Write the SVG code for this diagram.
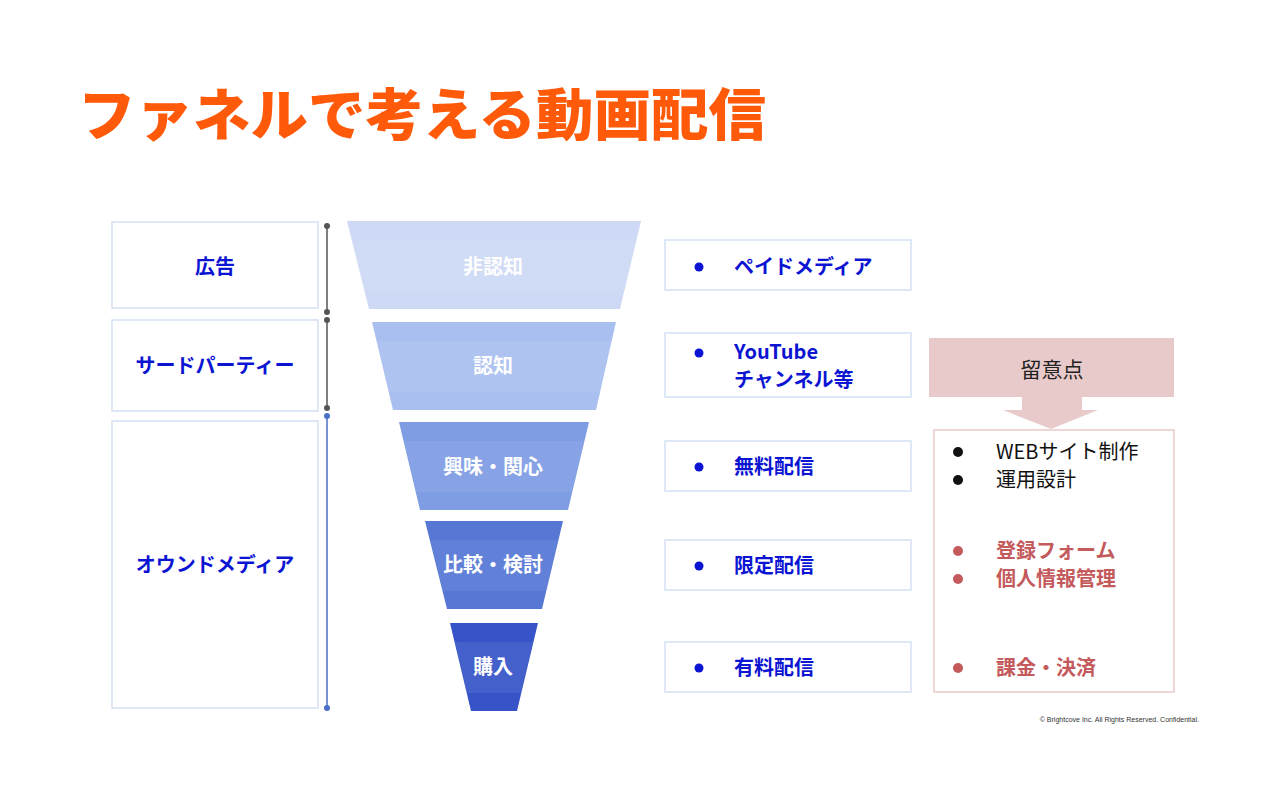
<svg xmlns="http://www.w3.org/2000/svg" width="1280" height="800" viewBox="0 0 1280 800">
<style>
.jp{font-family:"Noto Sans CJK JP","Liberation Sans",sans-serif;}
.title{font-size:56px;font-weight:900;fill:#FF5A0A;}
.lbox{fill:#fff;stroke:#D5E1F4;stroke-width:1.5;}
.ltxt{font-size:20px;font-weight:700;fill:#0B14D2;text-anchor:middle;}
.ftxt{font-size:20px;font-weight:700;fill:#fff;text-anchor:middle;}
.rtxt{font-size:20px;font-weight:700;fill:#0B14D2;}
.btxt{font-size:20px;fill:#111;}
.ptxt{font-size:20px;font-weight:700;fill:#C45A5C;}
.band{fill:#fff;opacity:0.07;}
</style>
<rect width="1280" height="800" fill="#fff"/>
<text class="jp title" x="78" y="135" textLength="688" lengthAdjust="spacingAndGlyphs">ファネルで考える動画配信</text>

<g id="left-ad"><rect class="lbox" x="112" y="222" width="206" height="86"/><text class="jp ltxt" x="215" y="274">広告</text></g>
<g id="left-third"><rect class="lbox" x="112" y="320" width="206" height="91"/><text class="jp ltxt" x="215" y="373">サードパーティー</text></g>
<g id="left-owned"><rect class="lbox" x="112" y="421" width="206" height="287"/><text class="jp ltxt" x="215" y="572">オウンドメディア</text></g>

<g id="connectors">
<line x1="327" y1="226" x2="327" y2="312" stroke="#555" stroke-width="1.5"/>
<circle cx="327" cy="226" r="3" fill="#555"/><circle cx="327" cy="312" r="3" fill="#555"/>
<line x1="327" y1="320" x2="327" y2="408" stroke="#555" stroke-width="1.5"/>
<circle cx="327" cy="320" r="3" fill="#555"/><circle cx="327" cy="408" r="3" fill="#555"/>
<line x1="327" y1="416" x2="327" y2="708" stroke="#4A6FC8" stroke-width="1.5"/>
<circle cx="327" cy="416" r="3" fill="#4A6FC8"/><circle cx="327" cy="708" r="3" fill="#4A6FC8"/>
</g>

<g id="f1"><polygon points="347,221 641,221 620,309 369,309" fill="#CDD9F5"/><polygon class="band" points="352,241 636,241 625,290 364,290"/><text class="jp ftxt" x="493" y="274">非認知</text></g>
<g id="f2"><polygon points="372,322 616,322 596,410 393,410" fill="#A9BFEF"/><polygon class="band" points="376,341 612,341 601,392 389,392"/><text class="jp ftxt" x="493" y="373">認知</text></g>
<g id="f3"><polygon points="399,422 589,422 568,510 420,510" fill="#7E9DE3"/><polygon class="band" points="404,441 584,441 572,492 416,492"/><text class="jp ftxt" x="493" y="474" textLength="100" lengthAdjust="spacingAndGlyphs">興味・関心</text></g>
<g id="f4"><polygon points="425,521 563,521 542,609 447,609" fill="#5677D4"/><polygon class="band" points="430,540 558,540 546,591 443,591"/><text class="jp ftxt" x="493" y="572" textLength="100" lengthAdjust="spacingAndGlyphs">比較・検討</text></g>
<g id="f5"><polygon points="450,623 538,623 517,711 471,711" fill="#3654C8"/><polygon class="band" points="455,642 533,642 521,693 467,693"/><text class="jp ftxt" x="493" y="674">購入</text></g>

<g id="r1"><rect class="lbox" x="665" y="240" width="246" height="50"/><circle cx="699" cy="267" r="4.5" fill="#0B14D2"/><text class="jp rtxt" x="734" y="274">ペイドメディア</text></g>
<g id="r2"><rect class="lbox" x="665" y="333" width="246" height="64"/><circle cx="699" cy="353" r="4.5" fill="#0B14D2"/><text class="jp rtxt" x="734" y="359">YouTube</text><text class="jp rtxt" x="734" y="387">チャンネル等</text></g>
<g id="r3"><rect class="lbox" x="665" y="441" width="246" height="50"/><circle cx="699" cy="467" r="4.5" fill="#0B14D2"/><text class="jp rtxt" x="734" y="474">無料配信</text></g>
<g id="r4"><rect class="lbox" x="665" y="540" width="246" height="50"/><circle cx="699" cy="566" r="4.5" fill="#0B14D2"/><text class="jp rtxt" x="734" y="573">限定配信</text></g>
<g id="r5"><rect class="lbox" x="665" y="642" width="246" height="50"/><circle cx="699" cy="668" r="4.5" fill="#0B14D2"/><text class="jp rtxt" x="734" y="675">有料配信</text></g>

<g id="notes-arrow">
<polygon points="929,338 1174,338 1174,397 1082,397 1082,410 1098,410 1051,429 1003,410 1022,410 1022,397 929,397" fill="#E9CACA"/>
<text class="jp" x="1052" y="377" font-size="21" fill="#222" text-anchor="middle">留意点</text>
</g>
<g id="notes">
<rect x="934" y="430" width="240" height="262" fill="#fff" stroke="#E9CACA" stroke-width="1.5"/>
<circle cx="958" cy="452" r="5" fill="#111"/><text class="jp btxt" x="996" y="459">WEBサイト制作</text>
<circle cx="958" cy="480" r="5" fill="#111"/><text class="jp btxt" x="996" y="487">運用設計</text>
<circle cx="958" cy="551" r="5" fill="#C45A5C"/><text class="jp ptxt" x="996" y="558">登録フォーム</text>
<circle cx="958" cy="579" r="5" fill="#C45A5C"/><text class="jp ptxt" x="996" y="586">個人情報管理</text>
<circle cx="958" cy="668" r="5" fill="#C45A5C"/><text class="jp ptxt" x="996" y="675">課金・決済</text>
</g>
<text x="1199" y="722" font-family="Liberation Sans,sans-serif" font-size="7" fill="#333" text-anchor="end">© Brightcove Inc. All Rights Reserved. Confidential.</text>
</svg>
